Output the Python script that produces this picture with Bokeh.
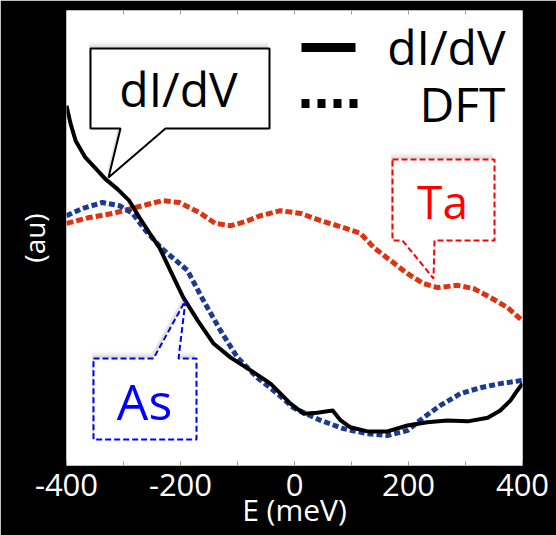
from bokeh.plotting import figure
from bokeh.models import Range1d, LinearAxis, SingleIntervalTicker, FixedTicker, Label, NumeralTickFormatter
from bokeh.embed import file_html
from bokeh.resources import INLINE

# ---- data ----
didv_E = [-400, -393, -384, -367, -349, -332, -311, -290, -272, -254, -237, -218, -195, -170, -142, -112, -77, -42, -7, 16, 40, 67, 81, 98, 128, 163, 198, 233, 268, 304, 339, 361, 379, 391, 400]
didv_I = [0.791, 0.752, 0.714, 0.677, 0.653, 0.630, 0.608, 0.582, 0.545, 0.510, 0.479, 0.429, 0.369, 0.319, 0.268, 0.237, 0.209, 0.180, 0.136, 0.114, 0.116, 0.121, 0.099, 0.084, 0.075, 0.075, 0.088, 0.095, 0.099, 0.097, 0.105, 0.121, 0.143, 0.165, 0.180]

as_E = [-400, -372, -337, -307, -284, -261, -233, -188, -160, -130, -100, -65, -30, -2, 46, 86, 128, 163, 198, 226, 256, 291, 326, 361, 400]
as_D = [0.549, 0.565, 0.578, 0.571, 0.554, 0.516, 0.477, 0.429, 0.363, 0.297, 0.237, 0.193, 0.158, 0.127, 0.099, 0.081, 0.070, 0.066, 0.077, 0.105, 0.132, 0.158, 0.171, 0.180, 0.187]

ta_E = [-400, -360, -319, -279, -232, -202, -167, -139, -112, -86, -60, -25, 11, 46, 86, 116, 139, 168, 198, 226, 251, 286, 314, 344, 374, 400]
ta_D = [0.532, 0.545, 0.554, 0.567, 0.582, 0.578, 0.556, 0.532, 0.527, 0.536, 0.549, 0.560, 0.554, 0.538, 0.523, 0.510, 0.479, 0.451, 0.422, 0.400, 0.391, 0.396, 0.389, 0.369, 0.347, 0.318]

minor_ticks = [-300, -200, -100, 0, 100, 200, 300]

FONT = "Open Sans"
W, H = 556, 535
L, R, T, B = 66, 34, 10, 70
FW, FH = W - L - R, H - T - B
XR = (-400, 400)
YR = (0, 1)


def sx(px):
    return XR[0] + (px - L) * (XR[1] - XR[0]) / FW


def sy(py):
    return YR[0] + (T + FH - py) * (YR[1] - YR[0]) / FH


p = figure(width=W, height=H, output_backend="svg", toolbar_location=None,
           x_range=Range1d(*XR), y_range=Range1d(*YR),
           min_border_left=L, min_border_right=R, min_border_top=T, min_border_bottom=B,
           background_fill_color="white", border_fill_color="black",
           outline_line_color=None)
p.grid.visible = False

# bottom axis
xa = p.xaxis[0]
xa.ticker = SingleIntervalTicker(interval=200, num_minor_ticks=2)
xa.formatter = NumeralTickFormatter(format="0")
xa.major_tick_in = 4
xa.major_tick_out = 0
xa.minor_tick_in = 4
xa.minor_tick_out = 0
xa.major_tick_line_color = "#999999"
xa.minor_tick_line_color = "#999999"
xa.axis_line_color = None
xa.major_label_text_color = "white"
xa.major_label_text_font = FONT
xa.major_label_text_font_size = "31px"
xa.major_label_standoff = 8
xa.axis_label = "E (meV)"
xa.axis_label_text_color = "white"
xa.axis_label_text_font = FONT
xa.axis_label_text_font_size = "30px"
xa.axis_label_text_font_style = "normal"
xa.axis_label_standoff = -10

# top axis (ticks only)
ta = LinearAxis(ticker=FixedTicker(ticks=[], minor_ticks=minor_ticks),
                minor_tick_in=4, minor_tick_out=0,
                minor_tick_line_color="#999999", major_tick_line_color=None,
                axis_line_color=None)
p.add_layout(ta, "above")

# left axis: label only
ya = p.yaxis[0]
ya.ticker = FixedTicker(ticks=[])
ya.major_tick_line_color = None
ya.minor_tick_line_color = None
ya.axis_line_color = None
ya.major_label_standoff = 0
ya.axis_label = "(au)"
ya.axis_label_text_color = "white"
ya.axis_label_text_font = FONT
ya.axis_label_text_font_size = "28px"
ya.axis_label_text_font_style = "normal"
ya.axis_label_standoff = 14

# curves
p.line(ta_E, ta_D, line_color="#dd3311", line_width=5, line_dash="7 3")
p.line(as_E, as_D, line_color="#1c3a94", line_width=5, line_dash="6 3")
p.line(didv_E, didv_I, line_color="black", line_width=4, line_join="round")


def callout(pts, color, dash, text, tx, ty, tcolor, size):
    xs = [sx(a) for a, b in pts]
    ys = [sy(b) for a, b in pts]
    for k, al in ((7, 0.05), (5, 0.08), (3, 0.12)):
        p.patch([x - (XR[1] - XR[0]) * 1.5 / FW for x in xs],
                [y + k / FH for y in ys], fill_color="#777777", fill_alpha=al, line_color=None)
    p.patch(xs, ys, fill_color="white", line_color=color, line_width=2, line_dash=dash)
    p.add_layout(Label(x=sx(tx), y=sy(ty), text=text, text_align="center", text_baseline="middle",
                       text_font=FONT, text_font_size=size, text_color=tcolor))


callout([(90, 48), (269, 48), (269, 128), (165, 128), (108, 177), (120, 128), (90, 128)],
        "black", "solid", "dI/dV", 178, 88, "black", "48px")
callout([(392, 159), (494, 159), (494, 240), (434, 240), (433, 278), (402, 240), (392, 240)],
        "red", "6 3", "Ta", 442, 200, "red", "46px")
callout([(93, 358), (153, 358), (185, 300), (178, 358), (196, 358), (196, 439), (93, 439)],
        "blue", "6 3", "As", 144, 400, "blue", "50px")

# legend
p.line([sx(301), sx(355)], [sy(47), sy(47)], line_color="black", line_width=9)
p.line([sx(301), sx(359)], [sy(103), sy(103)], line_color="black", line_width=9, line_dash="8 8")
p.add_layout(Label(x=sx(505), y=sy(46), text="dI/dV", text_align="right", text_baseline="middle",
                   text_font=FONT, text_font_size="48px", text_color="black"))
p.add_layout(Label(x=sx(505), y=sy(103), text="DFT", text_align="right", text_baseline="middle",
                   text_font=FONT, text_font_size="48px", text_color="black"))

open("out.html", "w").write(file_html(p, INLINE))
